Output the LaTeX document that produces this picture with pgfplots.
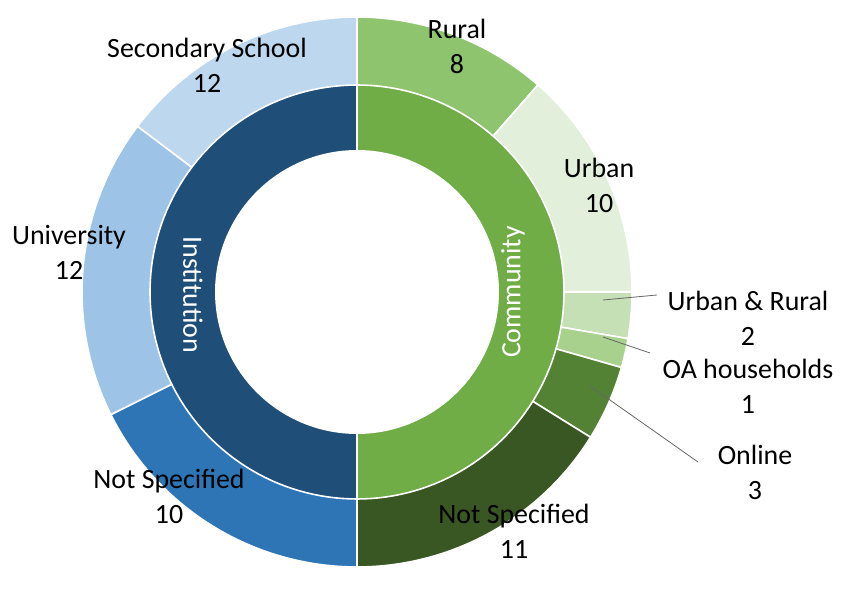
\documentclass[border=0pt]{standalone}
\usepackage{pgfplots}
\usepackage{pgfplotstable}
\usepackage{fontspec}
\pgfplotsset{compat=1.18}
\setmainfont{Carlito}

\definecolor{cRural}{HTML}{8FC46F}
\definecolor{cUrban}{HTML}{E2EFDA}
\definecolor{cUrbRur}{HTML}{C5E0B4}
\definecolor{cOA}{HTML}{A9D18E}
\definecolor{cOnline}{HTML}{548235}
\definecolor{cNSc}{HTML}{385723}
\definecolor{cComm}{HTML}{70AD47}
\definecolor{cInst}{HTML}{1F4E79}
\definecolor{cSec}{HTML}{BDD7EE}
\definecolor{cUni}{HTML}{9DC3E6}
\definecolor{cNSi}{HTML}{2E75B6}

\tikzset{lbl/.style={font=\fontsize{28}{35}\selectfont, align=center, inner sep=0pt}}

% outer ring, right half, clockwise from the top (segment sizes as drawn)
\pgfplotstableread{
value colour
8    cRural
9.5  cUrban
1.9  cUrbRur
1.2  cOA
3.1  cOnline
11.3 cNSc
}\community
% outer ring, left half, clockwise from the bottom (segment sizes as drawn)
\pgfplotstableread{
value colour
12 cNSi
12 cUni
10 cSec
}\institution
% inner ring
\pgfplotstableread{
value colour
35 cComm
}\commin
\pgfplotstableread{
value colour
34 cInst
}\instin

% one half of a ring: #1 table, #2 start angle (clockwise from top), #3 radius
\newcommand\drawhalf[3]{%
  \pgfplotstablegetrowsof{#1}%
  \pgfmathtruncatemacro\nlast{\pgfplotsretval-1}%
  \def\hsum{0}%
  \pgfplotsforeachungrouped \i in {0,...,\nlast}{%
    \pgfplotstablegetelem{\i}{value}\of{#1}%
    \pgfmathsetmacro\hsum{\hsum+\pgfplotsretval}}%
  \def\hrun{0}%
  \pgfplotsforeachungrouped \i in {0,...,\nlast}{%
    \pgfplotstablegetelem{\i}{value}\of{#1}\let\segval\pgfplotsretval
    \pgfplotstablegetelem{\i}{colour}\of{#1}\let\segcol\pgfplotsretval
    \pgfmathsetmacro\aa{#2+180*\hrun/\hsum}%
    \pgfmathsetmacro\hrun{\hrun+\segval}%
    \pgfmathsetmacro\bb{#2+180*\hrun/\hsum}%
    \edef\next{\noexpand\addplot[fill=\segcol, draw=white, line width=1.6,
      domain=\aa:\bb, samples=90, variable=\noexpand\t]
      ({357+#3*sin(\noexpand\t)},{292-#3*cos(\noexpand\t)})
      -- (axis cs:357,292) -- cycle;}%
    \next}%
}

\begin{document}
\begin{tikzpicture}
\begin{axis}[
  scale only axis,
  width=851bp, height=590bp,
  xmin=0, xmax=851, ymin=0, ymax=590,
  y dir=reverse,
  hide axis,
  clip=false,
  no markers,
]
% keep the page the size of the reference
\path (axis cs:0,0) rectangle (axis cs:851,590);

\drawhalf{\community}{0}{275}
\drawhalf{\institution}{180}{275}
\drawhalf{\commin}{0}{207}
\drawhalf{\instin}{180}{207}
\addplot[fill=white, draw=none, domain=0:360, samples=180]
  ({357+142*sin(x)},{292-142*cos(x)});

% leader lines
\draw[black!60, line width=0.8] (axis cs:603,300) -- (axis cs:657,295);
\draw[black!60, line width=0.8] (axis cs:603,337) -- (axis cs:650,353);
\draw[black!60, line width=0.8] (axis cs:590,386) -- (axis cs:698,462);

\node[lbl] at (axis cs:207,65) {Secondary School\\12};
\node[lbl] at (axis cs:457,46) {Rural\\8};
\node[lbl] at (axis cs:599,185) {Urban\\10};
\node[lbl] at (axis cs:69,252) {University\\12};
\node[lbl] at (axis cs:169,496) {Not Specified\\10};
\node[lbl] at (axis cs:514,531) {Not Specified\\11};
\node[lbl] at (axis cs:748,318) {Urban \& Rural\\2};
\node[lbl] at (axis cs:748,386) {OA households\\1};
\node[lbl] at (axis cs:755,472) {Online\\3};

\node[lbl, white, rotate=-90] at (axis cs:193,295) {Institution};
\node[lbl, white, rotate=90] at (axis cs:513,292) {Community};
\end{axis}
\end{tikzpicture}
\end{document}
